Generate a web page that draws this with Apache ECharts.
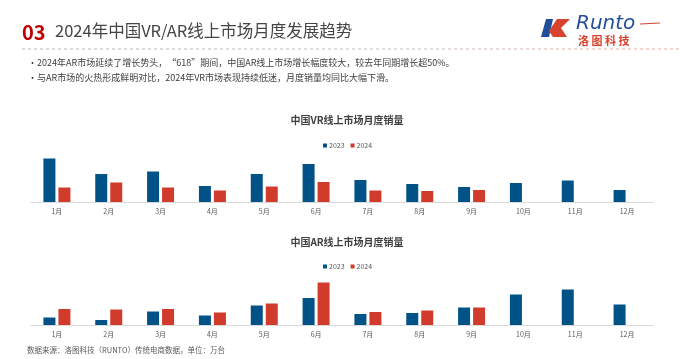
<!DOCTYPE html>
<html><head><meta charset="utf-8">
<script src="https://cdn.jsdelivr.net/npm/echarts@6/dist/echarts.min.js"></script>
<style>html,body{margin:0;padding:0;background:#fff}#c{width:680px;height:359px}</style>
</head><body><div id="c"></div>
<script>
const months = ['1月','2月','3月','4月','5月','6月','7月','8月','9月','10月','11月','12月'];
const vr2023 = [8.7, 5.6, 6.1, 3.2, 5.6, 7.6, 4.4, 3.6, 3.0, 3.8, 4.3, 2.4];
const vr2024 = [2.9, 3.9, 2.9, 2.3, 3.1, 4.0, 2.3, 2.2, 2.4, null, null, null];
const ar2023 = [1.5, 1.0, 2.7, 1.9, 3.9, 5.4, 2.2, 2.4, 3.5, 6.1, 7.1, 4.1];
const ar2024 = [3.2, 3.1, 3.2, 2.5, 4.3, 8.5, 2.6, 2.9, 3.5, null, null, null];
const titles = ['中国VR线上市场月度销量', '中国AR线上市场月度销量'];
const legendNames = ['2023', '2024'];
const bullets = [
  '2024年AR市场延续了增长势头，“618”期间，中国AR线上市场增长幅度较大，较去年同期增长超50%。',
  '与AR市场的火热形成鲜明对比，2024年VR市场表现持续低迷，月度销量均同比大幅下滑。'
];
const source = '数据来源：洛图科技（RUNTO）传统电商数据，单位：万台';

const BLUE = '#005287', RED = '#d13b2c';
const FONT = '"Noto Sans CJK SC", "Noto Sans", sans-serif';
const chart = echarts.init(document.getElementById('c'));

function xAxis(gi){ return {type:'category', gridIndex:gi, data:months,
  axisLine:{lineStyle:{color:'#d9d9d9', width:1}}, axisTick:{show:false},
  axisLabel:{color:'#595959', fontSize:7, margin:6, fontFamily:FONT}}; }
function yAxis(gi){ return {type:'value', gridIndex:gi, min:0, max:10, show:false, splitLine:{show:false}}; }
function bar(name, data, color, gi){ return {type:'bar', name, data, xAxisIndex:gi, yAxisIndex:gi,
  barWidth:12, barGap:'25%', itemStyle:{color}, animation:false}; }

const graphics = [
  {type:'text', left:22, top:22, style:{text:'03', fill:'#c00000', font:'bold 20px '+FONT}},
  {type:'text', left:55, top:22, style:{text:'2024年中国VR/AR线上市场月度发展趋势', fill:'#454545', font:'16.5px '+FONT}},
  {type:'line', shape:{x1:22,y1:49,x2:680,y2:49}, style:{lineDash:[3,3], lineWidth:1,
    stroke:new echarts.graphic.LinearGradient(22,0,680,0,[{offset:0,color:'#b4b4b4'},{offset:0.6,color:'#c8c0c0'},{offset:1,color:'#f0a8a0'}],true)}},
  {type:'polygon', shape:{points:[[546,19],[553,19],[549,37],[541,37]]}, style:{fill:'#1f4f9c'}},
  {type:'polygon', shape:{points:[[557,19],[570,19],[561,28],[567,37],[553,37],[549,31],[553,25]]}, style:{fill:'#d8432f'}},
  {type:'text', left:576, top:14, style:{text:'Runto', fill:'#24509a', font:'italic 20px "DejaVu Sans", sans-serif'}},
  {type:'line', shape:{x1:640,y1:24,x2:660,y2:23}, style:{stroke:'#d8432f', lineWidth:1}},
  {type:'text', left:578, top:35, style:{text:'洛 图 科 技', fill:'#d8432f', font:'bold 11px '+FONT}},
  {type:'text', left:27, top:346, style:{text:source, fill:'#595959', font:'7.5px '+FONT}}
];
bullets.forEach((t,i)=>{
  graphics.push({type:'text', left:28, top:58+i*15, style:{text:'•', fill:'#404040', font:'9px '+FONT}});
  graphics.push({type:'text', left:37, top:58+i*15, style:{text:t, fill:'#404040', font:'9px '+FONT}});
});

chart.setOption({
  backgroundColor:'#fff',
  animation:false,
  title:[
    {text:titles[0], left:342, top:110, textAlign:'center', textStyle:{fontSize:10, fontWeight:'bold', color:'#404040', fontFamily:FONT}},
    {text:titles[1], left:342, top:232, textAlign:'center', textStyle:{fontSize:10, fontWeight:'bold', color:'#404040', fontFamily:FONT}}
  ],
  legend:[
    {data:legendNames, left:318, top:137, icon:'rect', itemWidth:4, itemHeight:4, itemGap:6,
     textStyle:{fontSize:7, color:'#595959', fontFamily:FONT, padding:[0,0,0,-3]}},
    {data:legendNames, left:318, top:258, icon:'rect', itemWidth:4, itemHeight:4, itemGap:6,
     textStyle:{fontSize:7, color:'#595959', fontFamily:FONT, padding:[0,0,0,-3]}}
  ],
  grid:[
    {left:31, right:27, top:152, height:50},
    {left:31, right:27, top:275, height:50}
  ],
  xAxis:[xAxis(0), xAxis(1)],
  yAxis:[yAxis(0), yAxis(1)],
  series:[
    bar(legendNames[0], vr2023, BLUE, 0), bar(legendNames[1], vr2024, RED, 0),
    bar(legendNames[0], ar2023, BLUE, 1), bar(legendNames[1], ar2024, RED, 1)
  ],
  graphic:graphics
});
</script></body></html>
